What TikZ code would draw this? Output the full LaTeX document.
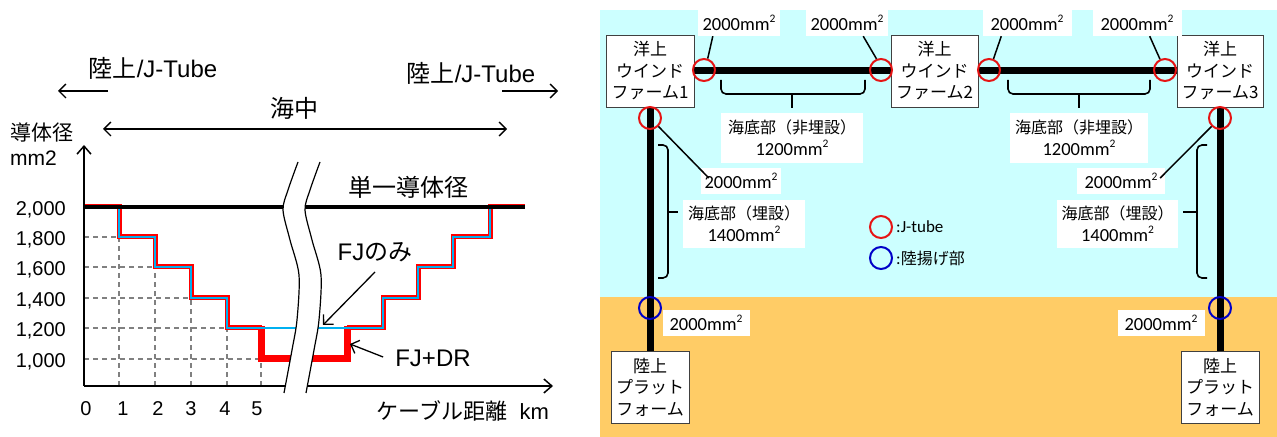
\documentclass[tikz,border=0pt]{standalone}
\usepackage{fontspec}
\setmainfont{Liberation Sans}
\newfontfamily\jp{Noto Sans CJK JP}
\newfontfamily\calfont{Carlito}
\usetikzlibrary{arrows.meta}
\definecolor{seabg}{RGB}{204,255,255}
\definecolor{landbg}{RGB}{255,204,102}
\definecolor{stepred}{RGB}{255,0,0}
\definecolor{stepblue}{RGB}{0,176,240}
\definecolor{gridgray}{RGB}{128,128,128}
\definecolor{jtred}{RGB}{230,20,20}
\definecolor{landblue}{RGB}{0,0,200}
\newcommand\msq{\raisebox{0.45em}{\fontsize{11.5bp}{11.5bp}\selectfont 2}}
\begin{document}
\begin{tikzpicture}[x=1bp,y=-1bp,
  big/.style={font=\fontsize{24bp}{28bp}\selectfont, inner sep=0},
  ticklbl/.style={font=\fontsize{20bp}{24bp}\selectfont, inner sep=0},
  barb/.style={line width=1.3bp, -{Straight Barb[length=7bp,width=14bp]}},
  dbarb/.style={line width=1.3bp, {Straight Barb[length=7bp,width=14bp]}-{Straight Barb[length=7bp,width=14bp]}},
  axisline/.style={line width=1.5bp, -{Straight Barb[length=8bp,width=14bp]}},
  gridline/.style={gridgray, line width=1.2bp, dash pattern=on 5bp off 4bp},
  redstep/.style={stepred, line width=5bp},
  reddr/.style={stepred, line width=7bp},
  bluestep/.style={stepblue, line width=2bp},
  single/.style={black, line width=3.5bp},
  box/.style={draw=black!75, line width=0.8bp, fill=white, align=center, inner sep=0,
    minimum width=88bp, minimum height=72bp, font=\jp\fontsize{17bp}{21.5bp}\selectfont},
  tag/.style={fill=white, inner sep=0, minimum height=26bp, font=\calfont\fontsize{18.5bp}{20bp}\selectfont},
  lab/.style={fill=white, inner sep=0, align=center, font=\jp\fontsize{16bp}{22bp}\selectfont},
  cable/.style={line width=7bp, black},
  jt/.style={circle, draw=jtred, line width=2bp, minimum size=22bp, inner sep=0},
  landing/.style={circle, draw=landblue, line width=2bp, minimum size=22bp, inner sep=0},
  leader/.style={line width=1.5bp, black},
  bracket/.style={line width=1.6bp, black, rounded corners=5bp}
]
\useasboundingbox (0,0) rectangle (1277,437);
\fill[white] (0,0) rectangle (1277,437);

% ================= LEFT CHART =================
% grid
\draw[gridline] (84,237) -- (119,237);
\draw[gridline] (84,267) -- (155,267);
\draw[gridline] (84,298) -- (191,298);
\draw[gridline] (84,328) -- (227,328);
\draw[gridline] (84,359) -- (261,359);
\draw[gridline] (119,386) -- (119,237);
\draw[gridline] (155,386) -- (155,267);
\draw[gridline] (191,386) -- (191,298);
\draw[gridline] (227,386) -- (227,328);
\draw[gridline] (261,386) -- (261,359);

% steps left
\draw[redstep] (84,207) -- (119,207) -- (119,237) -- (155,237) -- (155,267) -- (191,267) -- (191,298) -- (227,298) -- (227,328) -- (262,328);
\draw[reddr] (261,326) -- (261,359) -- (296,359);
\draw[bluestep] (119,207) -- (119,237) -- (155,237) -- (155,267) -- (191,267) -- (191,298) -- (227,298) -- (227,328) -- (296,328);
\draw[single] (84,207) -- (296,207);
% steps right
\draw[reddr] (298,359) -- (347,359) -- (347,326);
\draw[redstep] (347,328) -- (383,328) -- (383,298) -- (418,298) -- (418,267) -- (453,267) -- (453,237) -- (490,237) -- (490,207) -- (525,207);
\draw[bluestep] (298,328) -- (383,328) -- (383,298) -- (418,298) -- (418,267) -- (453,267) -- (453,237) -- (490,237) -- (490,207);
\draw[single] (298,207) -- (525,207);

% axes
\coordinate (orig) at (84,386);
\coordinate (ytop) at (84,145);
\coordinate (xend) at (553,386);
\draw[axisline] (orig) -- (ytop);
\draw[axisline] (orig) -- (xend);

% break
\fill[white] plot[smooth] coordinates {(298,162) (288,190) (283,210) (290,240) (299,275) (297,320) (292,350) (284,393)}
  -- plot[smooth] coordinates {(306,393) (314,350) (319,320) (321,275) (312,240) (305,210) (310,190) (320,162)} -- cycle;
\draw[line width=1.2bp] plot[smooth] coordinates {(298,162) (288,190) (283,210) (290,240) (299,275) (297,320) (292,350) (284,393)};
\draw[line width=1.2bp] plot[smooth] coordinates {(320,162) (310,190) (305,210) (312,240) (321,275) (319,320) (314,350) (306,393)};

% tick labels
\node[ticklbl, anchor=east] (y2000) at (66,210) {2,000};
\node[ticklbl, anchor=east] (y1800) at (66,240) {1,800};
\node[ticklbl, anchor=east] (y1600) at (66,270) {1,600};
\node[ticklbl, anchor=east] (y1400) at (66,301) {1,400};
\node[ticklbl, anchor=east] (y1200) at (66,331) {1,200};
\node[ticklbl, anchor=east] (y1000) at (66,362) {1,000};
\node[ticklbl] (x0) at (86,409) {0};
\node[ticklbl] (x1) at (123,409) {1};
\node[ticklbl] (x2) at (158,409) {2};
\node[ticklbl] (x3) at (191,409) {3};
\node[ticklbl] (x4) at (225,409) {4};
\node[ticklbl] (x5) at (257,409) {5};

% labels
\node[big] (jtl) at (153,68) {{\jp 陸上}/J-Tube};
\node[big] (jtr) at (471,73) {{\jp 陸上}/J-Tube};
\coordinate (al1) at (108,91);
\coordinate (al2) at (58,91);
\draw[barb] (al1) -- (al2);
\coordinate (ar1) at (502,91);
\coordinate (ar2) at (558,91);
\draw[barb] (ar1) -- (ar2);
\node[big, font=\jp\fontsize{24bp}{28bp}\selectfont] (sea) at (294,108) {海中};
\coordinate (sl) at (103,129);
\coordinate (sr) at (507,129);
\draw[dbarb] (sl) -- (sr);
\node[inner sep=0, anchor=west, font=\jp\fontsize{21bp}{24bp}\selectfont] (ylab) at (10,133) {導体径};
\node[inner sep=0, anchor=west, font=\fontsize{21bp}{24bp}\selectfont] (yunit) at (10,158) {mm2};
\node[big, font=\jp\fontsize{24bp}{28bp}\selectfont] (single) at (408,187) {単一導体径};
\node[big] (fj) at (375,252) {FJ{\jp のみ}};
\coordinate (fjtip) at (323,325);
\draw[barb] (375,272) -- (fjtip);
\node[big] (fjdr) at (433,358) {FJ+DR};
\coordinate (drtip) at (350,344);
\draw[barb] (fjdr.west) ++(-12,-1) -- (drtip);
\node[inner sep=0, font=\fontsize{22bp}{26bp}\selectfont] (xlab) at (463,411) {{\jp ケーブル距離}\hspace{12bp}km};

% ================= RIGHT DIAGRAM =================
\fill[seabg] (600,10) rectangle (1277,297);
\fill[landbg] (600,297) rectangle (1277,437);

\node[box] (wf1) at (650,71) {洋上\\ウインド\\ファーム1};
\node[box, minimum width=87bp] (wf2) at (934.5,71) {洋上\\ウインド\\ファーム2};
\node[box, minimum width=86bp] (wf3) at (1220,71) {洋上\\ウインド\\ファーム3};
\node[box, minimum width=78bp] (lp1) at (650,387) {陸上\\プラット\\フォーム};
\node[box, minimum width=78bp] (lp2) at (1220,387) {陸上\\プラット\\フォーム};

\draw[cable] (wf1.east) -- (wf2.west);
\draw[cable] (wf2.east) -- (wf3.west);
\draw[cable] (wf1.south) -- (lp1.north);
\draw[cable] (wf3.south) -- (lp2.north);

\node[jt] (c1) at (704,70) {};
\node[jt] (c2) at (881,70) {};
\node[jt] (c3) at (989,70) {};
\node[jt] (c4) at (1165,70) {};
\node[jt] (c5) at (650,118) {};
\node[jt] (c6) at (1220,118) {};
\node[landing] (c7) at (650,308) {};
\node[landing] (c8) at (1220,308) {};

% tags
\node[tag, minimum width=82bp] (t1) at (739,23) {2000mm\msq};
\node[tag, minimum width=82bp] (t2) at (847,23) {2000mm\msq};
\node[tag, minimum width=89bp] (t3) at (1027,23) {2000mm\msq};
\node[tag, minimum width=89bp] (t4) at (1137,23) {2000mm\msq};
\node[tag, minimum width=80bp] (t5) at (741,181) {2000mm\msq};
\node[tag, minimum width=88bp] (t6) at (1121,181) {2000mm\msq};
\node[tag, minimum width=87bp] (t7) at (706,323) {2000mm\msq};
\node[tag, minimum width=87bp] (t8) at (1161,323) {2000mm\msq};

\draw[leader] ([xshift=15bp]t1.south west) -- (c1.72);
\draw[leader] ([xshift=-25bp]t2.south east) -- (c2.112);
\draw[leader] ([xshift=19bp]t3.south west) -- (c3.68);
\draw[leader] ([xshift=-32bp]t4.south east) -- (c4.115);
\draw[leader] (c5.-45) -- ([xshift=8bp,yshift=3bp]t5.west);
\draw[leader] (c6.225) -- ([xshift=-5bp,yshift=3bp]t6.east);

% brackets
\draw[bracket] (721,80) -- (721,94) -- (865,94) -- (865,80);
\coordinate (bm1) at (792,94);
\draw[line width=1.6bp] (bm1) -- ++(0,14);
\draw[bracket] (1008,80) -- (1008,94) -- (1150,94) -- (1150,80);
\coordinate (bm2) at (1079,94);
\draw[line width=1.6bp] (bm2) -- ++(0,14);
\draw[bracket] (658,145) -- (668,145) -- (668,278) -- (658,278);
\coordinate (bm3) at (668,212);
\draw[line width=1.6bp] (bm3) -- ++(10,0);
\draw[bracket] (1207,145) -- (1197,145) -- (1197,278) -- (1207,278);
\coordinate (bm4) at (1197,212);
\draw[line width=1.6bp] (bm4) -- ++(-14,0);

\node[lab, minimum width=142bp, minimum height=50bp] (b1) at (792,138) {海底部（非埋設）\\{\calfont\fontsize{18.5bp}{20bp}\selectfont 1200mm\msq}};
\node[lab, minimum width=138bp, minimum height=50bp] (b2) at (1079,138) {海底部（非埋設）\\{\calfont\fontsize{18.5bp}{20bp}\selectfont 1200mm\msq}};
\node[lab, minimum width=122bp, minimum height=48bp] (b3) at (744,224) {海底部（埋設）\\{\calfont\fontsize{18.5bp}{20bp}\selectfont 1400mm\msq}};
\node[lab, minimum width=121bp, minimum height=48bp] (b4) at (1117.5,224) {海底部（埋設）\\{\calfont\fontsize{18.5bp}{20bp}\selectfont 1400mm\msq}};

% legend
\node[jt] (lg1) at (881,227) {};
\node[landing] (lg2) at (881,258) {};
\node[inner sep=0, anchor=west, font=\calfont\fontsize{17bp}{20bp}\selectfont] (lgt1) at (896,227) {:J-tube};
\node[inner sep=0, anchor=west, font=\calfont\fontsize{17bp}{20bp}\selectfont] (lgt2) at (896,258) {:{\jp\fontsize{16bp}{20bp}\selectfont 陸揚げ部}};
\end{tikzpicture}
\end{document}
